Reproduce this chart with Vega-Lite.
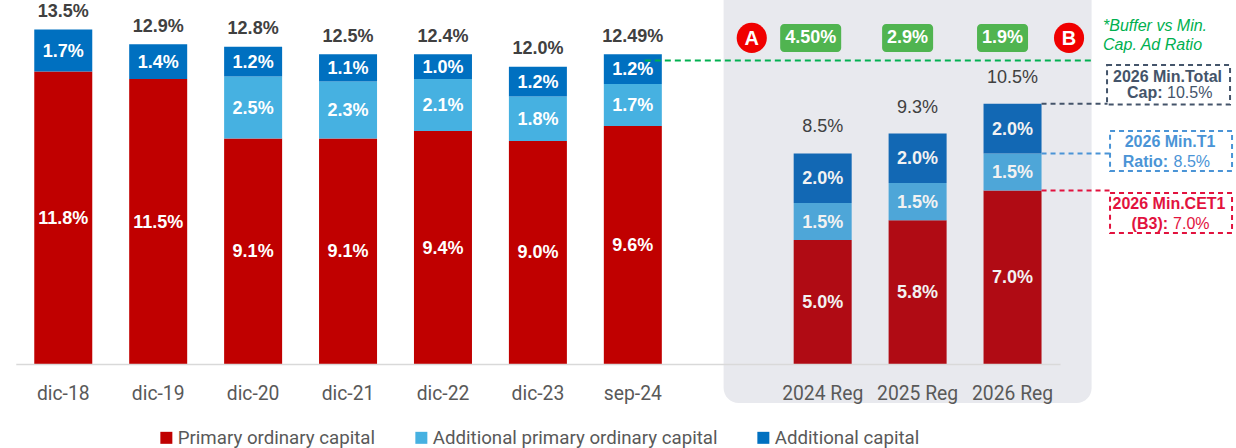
{
  "$schema": "https://vega.github.io/schema/vega-lite/v6.json",
  "width": 1236,
  "height": 364,
  "autosize": {"type": "none"},
  "padding": {"left": 0, "top": 0, "right": 0, "bottom": 84},
  "background": "white",
  "config": {
    "view": {"stroke": null},
    "font": "Liberation Sans",
    "axisX": {"title": null, "labelAngle": 0, "ticks": false, "domain": true, "domainColor": "#d9d9d9", "domainWidth": 1.5, "labelFont": "Roboto", "labelFontSize": 19.3, "labelColor": "#595959", "labelPadding": 20, "zindex": 1, "labelLimit": 200, "grid": false}
  },
  "datasets": {
    "bars": [
      {"cat": "dic-18", "period": "hist", "series": "Primary ordinary capital", "value": 11.8, "label": "11.8%"},
      {"cat": "dic-18", "period": "hist", "series": "Additional capital", "value": 1.7, "label": "1.7%"},
      {"cat": "dic-19", "period": "hist", "series": "Primary ordinary capital", "value": 11.5, "label": "11.5%"},
      {"cat": "dic-19", "period": "hist", "series": "Additional capital", "value": 1.4, "label": "1.4%"},
      {"cat": "dic-20", "period": "hist", "series": "Primary ordinary capital", "value": 9.1, "label": "9.1%"},
      {"cat": "dic-20", "period": "hist", "series": "Additional primary ordinary capital", "value": 2.5, "label": "2.5%"},
      {"cat": "dic-20", "period": "hist", "series": "Additional capital", "value": 1.2, "label": "1.2%"},
      {"cat": "dic-21", "period": "hist", "series": "Primary ordinary capital", "value": 9.1, "label": "9.1%"},
      {"cat": "dic-21", "period": "hist", "series": "Additional primary ordinary capital", "value": 2.3, "label": "2.3%"},
      {"cat": "dic-21", "period": "hist", "series": "Additional capital", "value": 1.1, "label": "1.1%"},
      {"cat": "dic-22", "period": "hist", "series": "Primary ordinary capital", "value": 9.4, "label": "9.4%"},
      {"cat": "dic-22", "period": "hist", "series": "Additional primary ordinary capital", "value": 2.1, "label": "2.1%"},
      {"cat": "dic-22", "period": "hist", "series": "Additional capital", "value": 1.0, "label": "1.0%"},
      {"cat": "dic-23", "period": "hist", "series": "Primary ordinary capital", "value": 9.0, "label": "9.0%"},
      {"cat": "dic-23", "period": "hist", "series": "Additional primary ordinary capital", "value": 1.8, "label": "1.8%"},
      {"cat": "dic-23", "period": "hist", "series": "Additional capital", "value": 1.2, "label": "1.2%"},
      {"cat": "sep-24", "period": "hist", "series": "Primary ordinary capital", "value": 9.6, "label": "9.6%"},
      {"cat": "sep-24", "period": "hist", "series": "Additional primary ordinary capital", "value": 1.7, "label": "1.7%"},
      {"cat": "sep-24", "period": "hist", "series": "Additional capital", "value": 1.2, "label": "1.2%"},
      {"cat": "2024 Reg", "period": "reg", "series": "Primary ordinary capital", "value": 5.0, "label": "5.0%"},
      {"cat": "2024 Reg", "period": "reg", "series": "Additional primary ordinary capital", "value": 1.5, "label": "1.5%"},
      {"cat": "2024 Reg", "period": "reg", "series": "Additional capital", "value": 2.0, "label": "2.0%"},
      {"cat": "2025 Reg", "period": "reg", "series": "Primary ordinary capital", "value": 5.8, "label": "5.8%"},
      {"cat": "2025 Reg", "period": "reg", "series": "Additional primary ordinary capital", "value": 1.5, "label": "1.5%"},
      {"cat": "2025 Reg", "period": "reg", "series": "Additional capital", "value": 2.0, "label": "2.0%"},
      {"cat": "2026 Reg", "period": "reg", "series": "Primary ordinary capital", "value": 7.0, "label": "7.0%"},
      {"cat": "2026 Reg", "period": "reg", "series": "Additional primary ordinary capital", "value": 1.5, "label": "1.5%"},
      {"cat": "2026 Reg", "period": "reg", "series": "Additional capital", "value": 2.0, "label": "2.0%"}
    ],
    "totals": [
      {"cat": "dic-18", "period": "hist", "total": 13.5, "label": "13.5%"},
      {"cat": "dic-19", "period": "hist", "total": 12.9, "label": "12.9%"},
      {"cat": "dic-20", "period": "hist", "total": 12.8, "label": "12.8%"},
      {"cat": "dic-21", "period": "hist", "total": 12.5, "label": "12.5%"},
      {"cat": "dic-22", "period": "hist", "total": 12.5, "label": "12.4%"},
      {"cat": "dic-23", "period": "hist", "total": 12.0, "label": "12.0%"},
      {"cat": "sep-24", "period": "hist", "total": 12.5, "label": "12.49%"},
      {"cat": "2024 Reg", "period": "reg", "total": 8.5, "label": "8.5%"},
      {"cat": "2025 Reg", "period": "reg", "total": 9.3, "label": "9.3%"},
      {"cat": "2026 Reg", "period": "reg", "total": 10.5, "label": "10.5%"}
    ],
    "buffers": [
      {"cat": "2024 Reg", "label": "4.50%"},
      {"cat": "2025 Reg", "label": "2.9%"},
      {"cat": "2026 Reg", "label": "1.9%"}
    ],
    "panel": [{"cat": "2025 Reg"}],
    "one": [{}]
  },
  "layer": [
    {
      "data": {"name": "panel"},
      "mark": {"type": "bar", "color": "#e8e9ee", "width": 368, "xOffset": -10, "cornerRadius": 15},
      "encoding": {
        "x": {"field": "cat", "type": "nominal", "sort": null,
          "scale": {"domain": ["dic-18", "dic-19", "dic-20", "dic-21", "dic-22", "dic-23", "sep-24", " ", "2024 Reg", "2025 Reg", "2026 Reg"], "range": [15.8, 1060], "paddingInner": 0.389, "paddingOuter": 0.1945},
          "axis": {"title": null, "zindex": 1}},
        "y": {"datum": 16, "type": "quantitative", "axis": null, "scale": {"domain": [0, 14.69], "nice": false, "zero": false}},
        "y2": {"datum": -1.57}
      }
    },
    {
      "data": {"name": "bars"},
      "transform": [{"filter": "datum.period == 'hist'"}],
      "mark": {"type": "bar"},
      "encoding": {
        "x": {"field": "cat", "type": "nominal", "sort": null, "axis": {"title": null, "zindex": 1}},
        "y": {"field": "value", "type": "quantitative", "stack": "zero", "axis": null},
        "color": {
          "field": "series", "type": "nominal",
          "scale": {"domain": ["Primary ordinary capital", "Additional primary ordinary capital", "Additional capital"], "range": ["#c00000", "#46b1e1", "#0070c0"]},
          "legend": {"orient": "none", "legendX": 157, "legendY": 428, "direction": "horizontal", "title": null, "symbolType": "square", "symbolSize": 144, "symbolStrokeWidth": 0, "labelFont": "Roboto", "labelFontSize": 18.7, "labelColor": "#595959", "labelOffset": 2, "columnPadding": 36, "labelLimit": 400}
        },
        "order": {"field": "series", "sort": "descending"}
      }
    },
    {
      "data": {"name": "bars"},
      "transform": [{"filter": "datum.period == 'reg'"}],
      "mark": {"type": "bar"},
      "encoding": {
        "x": {"field": "cat", "type": "nominal", "sort": null, "axis": {"title": null, "zindex": 1}},
        "y": {"field": "value", "type": "quantitative", "stack": "zero", "axis": null},
        "color": {
          "field": "series", "type": "nominal",
          "scale": {"domain": ["Primary ordinary capital", "Additional primary ordinary capital", "Additional capital"], "range": ["#b00b14", "#4ea6d8", "#1268b4"]},
          "legend": null
        },
        "order": {"field": "series", "sort": "descending"}
      }
    },
    {
      "data": {"name": "bars"},
      "transform": [{"filter": "datum.period == 'hist'"}],
      "mark": {"type": "text", "font": "Liberation Sans", "fontWeight": "bold", "fontSize": 18, "color": "white", "baseline": "middle", "dy": 1},
      "encoding": {
        "x": {"field": "cat", "type": "nominal", "sort": null, "axis": {"title": null, "zindex": 1}},
        "y": {"field": "value", "type": "quantitative", "stack": "zero", "bandPosition": 0.5, "axis": null},
        "detail": {"field": "series"},
        "order": {"field": "series", "sort": "descending"},
        "text": {"field": "label"}
      }
    },
    {
      "data": {"name": "bars"},
      "transform": [{"filter": "datum.period == 'reg'"}],
      "mark": {"type": "text", "font": "Liberation Sans", "fontWeight": "bold", "fontSize": 18, "color": "#f2f2f2", "baseline": "middle", "dy": 1},
      "encoding": {
        "x": {"field": "cat", "type": "nominal", "sort": null, "axis": {"title": null, "zindex": 1}},
        "y": {"field": "value", "type": "quantitative", "stack": "zero", "bandPosition": 0.5, "axis": null},
        "detail": {"field": "series"},
        "order": {"field": "series", "sort": "descending"},
        "text": {"field": "label"}
      }
    },
    {
      "data": {"name": "totals"},
      "transform": [{"filter": "datum.period == 'hist'"}],
      "mark": {"type": "text", "font": "Liberation Sans", "fontWeight": "bold", "fontSize": 18, "color": "#404040", "baseline": "middle", "dy": -17.5},
      "encoding": {
        "x": {"field": "cat", "type": "nominal", "sort": null, "axis": {"title": null, "zindex": 1}},
        "y": {"field": "total", "type": "quantitative", "axis": null},
        "text": {"field": "label"}
      }
    },
    {
      "data": {"name": "totals"},
      "transform": [{"filter": "datum.period == 'reg'"}],
      "mark": {"type": "text", "font": "Liberation Sans", "fontSize": 18, "color": "#404040", "baseline": "middle", "dy": -26},
      "encoding": {
        "x": {"field": "cat", "type": "nominal", "sort": null, "axis": {"title": null, "zindex": 1}},
        "y": {"field": "total", "type": "quantitative", "axis": null},
        "text": {"field": "label"}
      }
    },
    {
      "data": {"name": "one"},
      "mark": {"type": "rule", "color": "#00b050", "strokeWidth": 2, "strokeDash": [6, 4], "xOffset": 12, "x2Offset": 78.5},
      "encoding": {
        "x": {"datum": "sep-24", "type": "nominal", "axis": {"title": null, "zindex": 1}},
        "x2": {"datum": "2026 Reg"},
        "y": {"datum": 12.25, "type": "quantitative", "axis": null}
      }
    },
    {
      "data": {"name": "buffers"},
      "transform": [{"filter": "datum.label == '4.50%'"}],
      "mark": {"type": "bar", "color": "#50b450", "width": 61, "xOffset": -12, "cornerRadius": 4},
      "encoding": {
        "x": {"field": "cat", "type": "nominal", "sort": null, "axis": {"title": null, "zindex": 1}},
        "y": {"datum": 13.72, "type": "quantitative", "axis": null},
        "y2": {"datum": 12.59}
      }
    },
    {
      "data": {"name": "buffers"},
      "transform": [{"filter": "datum.label != '4.50%'"}],
      "mark": {"type": "bar", "color": "#50b450", "width": 51, "xOffset": -10, "cornerRadius": 4},
      "encoding": {
        "x": {"field": "cat", "type": "nominal", "sort": null, "axis": {"title": null, "zindex": 1}},
        "y": {"datum": 13.72, "type": "quantitative", "axis": null},
        "y2": {"datum": 12.59}
      }
    },
    {
      "data": {"name": "buffers"},
      "transform": [{"filter": "datum.label == '4.50%'"}],
      "mark": {"type": "text", "font": "Liberation Sans", "fontWeight": "bold", "fontSize": 18, "color": "white", "baseline": "middle", "xOffset": -12},
      "encoding": {
        "x": {"field": "cat", "type": "nominal", "sort": null, "axis": {"title": null, "zindex": 1}},
        "y": {"datum": 13.16, "type": "quantitative", "axis": null},
        "text": {"field": "label"}
      }
    },
    {
      "data": {"name": "buffers"},
      "transform": [{"filter": "datum.label != '4.50%'"}],
      "mark": {"type": "text", "font": "Liberation Sans", "fontWeight": "bold", "fontSize": 18, "color": "white", "baseline": "middle", "xOffset": -10},
      "encoding": {
        "x": {"field": "cat", "type": "nominal", "sort": null, "axis": {"title": null, "zindex": 1}},
        "y": {"datum": 13.16, "type": "quantitative", "axis": null},
        "text": {"field": "label"}
      }
    },
    {
      "data": {"name": "one"},
      "mark": {"type": "circle", "color": "#f00000", "opacity": 1, "size": 908, "xOffset": 24},
      "encoding": {
        "x": {"datum": " ", "type": "nominal", "axis": {"title": null, "zindex": 1}},
        "y": {"datum": 13.16, "type": "quantitative", "axis": null}
      }
    },
    {
      "data": {"name": "one"},
      "mark": {"type": "text", "text": "A", "font": "Liberation Sans", "fontWeight": "bold", "fontSize": 20, "color": "white", "baseline": "middle", "xOffset": 24, "dy": 1},
      "encoding": {
        "x": {"datum": " ", "type": "nominal", "axis": {"title": null, "zindex": 1}},
        "y": {"datum": 13.16, "type": "quantitative", "axis": null}
      }
    },
    {
      "data": {"name": "one"},
      "mark": {"type": "circle", "color": "#f00000", "opacity": 1, "size": 908, "xOffset": 56.5},
      "encoding": {
        "x": {"datum": "2026 Reg", "type": "nominal", "axis": {"title": null, "zindex": 1}},
        "y": {"datum": 13.16, "type": "quantitative", "axis": null}
      }
    },
    {
      "data": {"name": "one"},
      "mark": {"type": "text", "text": "B", "font": "Liberation Sans", "fontWeight": "bold", "fontSize": 20, "color": "white", "baseline": "middle", "xOffset": 56.5, "dy": 1},
      "encoding": {
        "x": {"datum": "2026 Reg", "type": "nominal", "axis": {"title": null, "zindex": 1}},
        "y": {"datum": 13.16, "type": "quantitative", "axis": null}
      }
    },
    {
      "data": {"name": "one"},
      "mark": {"type": "text", "text": ["*Buffer vs Min.", "Cap. Ad Ratio"], "font": "Liberation Sans", "fontStyle": "italic", "fontSize": 16, "color": "#00b050", "align": "left", "baseline": "alphabetic", "lineHeight": 19.5, "xOffset": 90.5},
      "encoding": {
        "x": {"datum": "2026 Reg", "type": "nominal", "axis": {"title": null, "zindex": 1}},
        "y": {"datum": 13.44, "type": "quantitative", "axis": null}
      }
    },
    {
      "data": {"name": "one"},
      "mark": {"type": "bar", "fill": "transparent", "stroke": "#44546a", "strokeWidth": 2, "strokeDash": [5, 4], "width": 123, "xOffset": 156},
      "encoding": {
        "x": {"datum": "2026 Reg", "type": "nominal", "axis": {"title": null, "zindex": 1}},
        "y": {"datum": 12.07, "type": "quantitative", "axis": null},
        "y2": {"datum": 10.47}
      }
    },
    {
      "data": {"name": "one"},
      "mark": {"type": "rule", "color": "#44546a", "strokeWidth": 2, "strokeDash": [5, 4], "xOffset": 29, "x2Offset": 95},
      "encoding": {
        "x": {"datum": "2026 Reg", "type": "nominal", "axis": {"title": null, "zindex": 1}},
        "x2": {"datum": "2026 Reg"},
        "y": {"datum": 10.5, "type": "quantitative", "axis": null}
      }
    },
    {
      "data": {"name": "one"},
      "mark": {"type": "text", "text": "2026 Min.Total", "font": "Liberation Sans", "fontWeight": "bold", "fontSize": 16, "color": "#44546a", "baseline": "middle", "xOffset": 155},
      "encoding": {
        "x": {"datum": "2026 Reg", "type": "nominal", "axis": {"title": null, "zindex": 1}},
        "y": {"datum": 11.58, "type": "quantitative", "axis": null}
      }
    },
    {
      "data": {"name": "one"},
      "mark": {"type": "text", "text": "Cap:", "font": "Liberation Sans", "fontWeight": "bold", "fontSize": 16, "color": "#44546a", "baseline": "middle", "align": "right", "xOffset": 150},
      "encoding": {
        "x": {"datum": "2026 Reg", "type": "nominal", "axis": {"title": null, "zindex": 1}},
        "y": {"datum": 10.94, "type": "quantitative", "axis": null}
      }
    },
    {
      "data": {"name": "one"},
      "mark": {"type": "text", "text": "10.5%", "font": "Liberation Sans", "fontSize": 16, "color": "#44546a", "baseline": "middle", "align": "left", "xOffset": 154.5},
      "encoding": {
        "x": {"datum": "2026 Reg", "type": "nominal", "axis": {"title": null, "zindex": 1}},
        "y": {"datum": 10.94, "type": "quantitative", "axis": null}
      }
    },
    {
      "data": {"name": "one"},
      "mark": {"type": "bar", "fill": "transparent", "stroke": "#4a94d6", "strokeWidth": 2, "strokeDash": [5, 4], "width": 122, "xOffset": 158.5},
      "encoding": {
        "x": {"datum": "2026 Reg", "type": "nominal", "axis": {"title": null, "zindex": 1}},
        "y": {"datum": 9.40, "type": "quantitative", "axis": null},
        "y2": {"datum": 7.79}
      }
    },
    {
      "data": {"name": "one"},
      "mark": {"type": "rule", "color": "#4a94d6", "strokeWidth": 2, "strokeDash": [5, 4], "xOffset": 29, "x2Offset": 97.5},
      "encoding": {
        "x": {"datum": "2026 Reg", "type": "nominal", "axis": {"title": null, "zindex": 1}},
        "x2": {"datum": "2026 Reg"},
        "y": {"datum": 8.5, "type": "quantitative", "axis": null}
      }
    },
    {
      "data": {"name": "one"},
      "mark": {"type": "text", "text": "2026 Min.T1", "font": "Liberation Sans", "fontWeight": "bold", "fontSize": 16, "color": "#4a94d6", "baseline": "middle", "xOffset": 157.5},
      "encoding": {
        "x": {"datum": "2026 Reg", "type": "nominal", "axis": {"title": null, "zindex": 1}},
        "y": {"datum": 8.94, "type": "quantitative", "axis": null}
      }
    },
    {
      "data": {"name": "one"},
      "mark": {"type": "text", "text": "Ratio:", "font": "Liberation Sans", "fontWeight": "bold", "fontSize": 16, "color": "#4a94d6", "baseline": "middle", "align": "right", "xOffset": 155.5},
      "encoding": {
        "x": {"datum": "2026 Reg", "type": "nominal", "axis": {"title": null, "zindex": 1}},
        "y": {"datum": 8.15, "type": "quantitative", "axis": null}
      }
    },
    {
      "data": {"name": "one"},
      "mark": {"type": "text", "text": "8.5%", "font": "Liberation Sans", "fontSize": 16, "color": "#4a94d6", "baseline": "middle", "align": "left", "xOffset": 161},
      "encoding": {
        "x": {"datum": "2026 Reg", "type": "nominal", "axis": {"title": null, "zindex": 1}},
        "y": {"datum": 8.15, "type": "quantitative", "axis": null}
      }
    },
    {
      "data": {"name": "one"},
      "mark": {"type": "bar", "fill": "transparent", "stroke": "#e2123e", "strokeWidth": 2, "strokeDash": [5, 4], "width": 122, "xOffset": 158.5},
      "encoding": {
        "x": {"datum": "2026 Reg", "type": "nominal", "axis": {"title": null, "zindex": 1}},
        "y": {"datum": 6.90, "type": "quantitative", "axis": null},
        "y2": {"datum": 5.29}
      }
    },
    {
      "data": {"name": "one"},
      "mark": {"type": "rule", "color": "#e2123e", "strokeWidth": 2, "strokeDash": [5, 4], "xOffset": 29, "x2Offset": 97.5},
      "encoding": {
        "x": {"datum": "2026 Reg", "type": "nominal", "axis": {"title": null, "zindex": 1}},
        "x2": {"datum": "2026 Reg"},
        "y": {"datum": 7.0, "type": "quantitative", "axis": null}
      }
    },
    {
      "data": {"name": "one"},
      "mark": {"type": "text", "text": "2026 Min.CET1", "font": "Liberation Sans", "fontWeight": "bold", "fontSize": 16, "color": "#e2123e", "baseline": "middle", "xOffset": 156.5},
      "encoding": {
        "x": {"datum": "2026 Reg", "type": "nominal", "axis": {"title": null, "zindex": 1}},
        "y": {"datum": 6.46, "type": "quantitative", "axis": null}
      }
    },
    {
      "data": {"name": "one"},
      "mark": {"type": "text", "text": "(B3):", "font": "Liberation Sans", "fontWeight": "bold", "fontSize": 16, "color": "#e2123e", "baseline": "middle", "align": "right", "xOffset": 155.5},
      "encoding": {
        "x": {"datum": "2026 Reg", "type": "nominal", "axis": {"title": null, "zindex": 1}},
        "y": {"datum": 5.65, "type": "quantitative", "axis": null}
      }
    },
    {
      "data": {"name": "one"},
      "mark": {"type": "text", "text": "7.0%", "font": "Liberation Sans", "fontSize": 16, "color": "#e2123e", "baseline": "middle", "align": "left", "xOffset": 160.5},
      "encoding": {
        "x": {"datum": "2026 Reg", "type": "nominal", "axis": {"title": null, "zindex": 1}},
        "y": {"datum": 5.65, "type": "quantitative", "axis": null}
      }
    }
  ],
  "resolve": {"scale": {"color": "independent"}}
}
